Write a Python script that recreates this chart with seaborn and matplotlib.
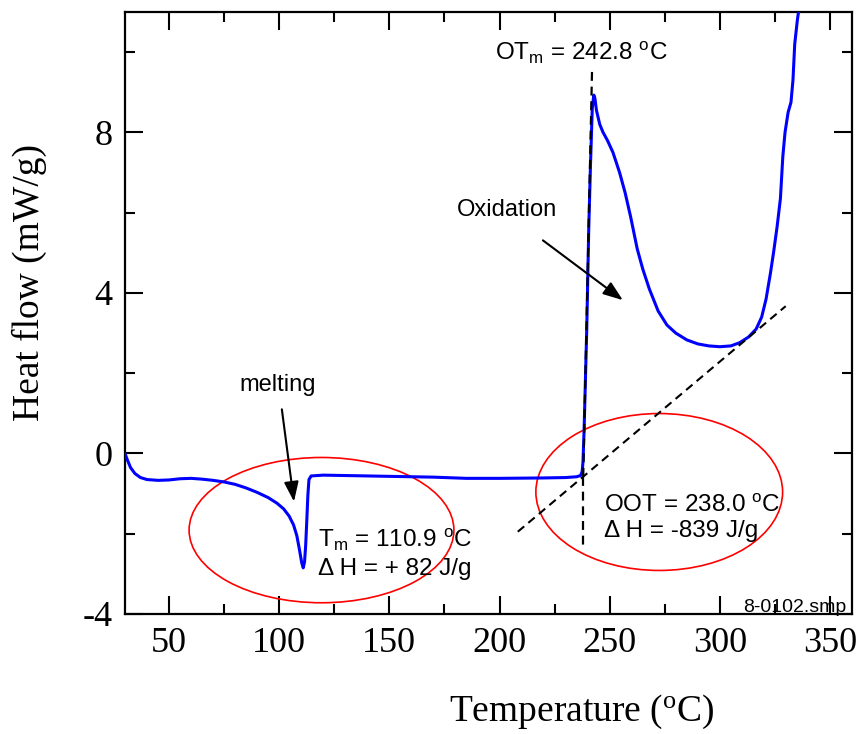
import matplotlib
matplotlib.use("Agg")
import matplotlib.pyplot as plt
from matplotlib.patches import Ellipse
from matplotlib.ticker import MultipleLocator
import numpy as np
import pandas as pd
import seaborn as sns

# DSC heat-flow trace (temperature in degC, heat flow in mW/g)
temperature = [
    30.0, 31.0, 32.5, 34.5, 37.0, 40.0, 45.0, 50.0, 55.0, 60.0, 65.0, 70.0,
    75.0, 80.0, 85.0, 90.0, 95.0, 99.0, 102.0, 104.5, 106.5, 108.0, 109.2,
    110.2, 110.9, 111.5, 112.0, 112.5, 113.0, 113.5, 114.5, 120.0, 130.0,
    150.0, 170.0, 185.0, 200.0, 220.0, 230.0, 235.0, 236.8, 237.5, 237.9,
    238.4, 239.6, 240.5, 241.3, 242.1, 242.8, 243.3, 244.0, 245.5, 247.0,
    249.0, 251.5, 254.5, 257.0, 259.5, 262.5, 265.0, 268.0, 272.0, 276.0,
    280.0, 285.0, 290.0, 295.0, 300.0, 305.0, 309.0, 313.0, 316.5, 319.0,
    321.0, 323.0, 324.5, 326.0, 327.5, 328.6, 329.6, 331.0, 332.3, 333.2,
    334.0, 335.2, 336.5,
]
heat_flow = [
    0.00, -0.15, -0.35, -0.50, -0.60, -0.65, -0.67, -0.66, -0.63, -0.62,
    -0.64, -0.67, -0.71, -0.77, -0.86, -0.97, -1.10, -1.24, -1.38, -1.56,
    -1.78, -2.05, -2.40, -2.72, -2.85, -2.70, -2.30, -1.70, -1.05, -0.65,
    -0.56, -0.54, -0.55, -0.57, -0.59, -0.62, -0.62, -0.61, -0.60, -0.58,
    -0.55, -0.45, -0.20, 0.60, 3.10, 5.60, 7.20, 8.60, 8.93, 8.85, 8.55,
    8.20, 8.00, 7.80, 7.50, 7.00, 6.50, 5.90, 5.10, 4.60, 4.10, 3.55, 3.20,
    3.00, 2.83, 2.73, 2.68, 2.66, 2.68, 2.76, 2.90, 3.10, 3.40, 3.85, 4.50,
    5.05, 5.65, 6.35, 7.40, 8.00, 8.50, 8.75, 9.30, 10.20, 10.80, 11.30,
]

# Onset construction (tangent lines)
oot = 238.0
otm = 242.8
baseline_tangent_x = [208.3, 329.9]
baseline_tangent_y = [-1.95, 3.67]
edge_tangent_x = [oot, 242.0]
edge_tangent_y = [-0.58, 9.55]
drop_x = [oot, oot]
drop_y = [-0.58, -2.40]

# Highlight ellipses: (centre x, centre y, width, height)
melt_ellipse = (119.2, -1.91, 120.2, 3.62)
ox_ellipse = (272.5, -0.96, 112.0, 3.91)

# Arrows: (tail, head)
melt_arrow = ((101.2, 1.10), (106.7, -1.20))
ox_arrow = ((219.7, 5.31), (256.0, 3.82))

x_ticks = [50, 100, 150, 200, 250, 300, 350]
y_ticks = [-4, 0, 4, 8]

sns.set_style("ticks")
plt.rcParams["font.family"] = ["Liberation Serif", "DejaVu Serif"]
plt.rcParams["mathtext.default"] = "regular"
plt.rcParams["axes.unicode_minus"] = False
plt.rcParams["text.color"] = "black"
plt.rcParams["axes.labelcolor"] = "black"
plt.rcParams["xtick.color"] = "black"
plt.rcParams["ytick.color"] = "black"

df = pd.DataFrame({"Temperature": temperature, "HeatFlow": heat_flow})

fig = plt.figure(figsize=(8.61, 7.34), dpi=100)
ax = fig.add_axes([125 / 861, 1 - 614 / 734, 727 / 861, 602 / 734])

sns.lineplot(data=df, x="Temperature", y="HeatFlow", color="#0000ff",
             lw=2.2, ax=ax, zorder=3)

dash = (4, 2.6)
ax.plot(baseline_tangent_x, baseline_tangent_y, color="black", lw=1.5,
        dashes=dash, zorder=4)
ax.plot(edge_tangent_x, edge_tangent_y, color="black", lw=1.6,
        dashes=dash, zorder=4)
ax.plot(drop_x, drop_y, color="black", lw=1.6, dashes=dash, zorder=4)

for cx, cy, w, h in (melt_ellipse, ox_ellipse):
    ax.add_patch(Ellipse((cx, cy), w, h, fill=False, edgecolor="#ff0000",
                         lw=1.2, zorder=2))

arrow_props = dict(arrowstyle="-|>,head_length=0.6,head_width=0.22",
                   color="black", lw=1.5, shrinkA=0, shrinkB=0,
                   mutation_scale=20)
for tail, head in (melt_arrow, ox_arrow):
    ax.annotate("", xy=head, xytext=tail, arrowprops=arrow_props, zorder=5)

sans = ["Liberation Sans", "DejaVu Sans"]
txt = dict(family=sans, color="black", va="baseline")
ax.text(99.4, 1.55, "melting", fontsize=17, ha="center", **txt)
ax.text(203.5, 5.91, "Oxidation", fontsize=17, ha="center", **txt)
ax.text(197.9, 9.80, r"OT$_m$ = %.1f $^o$C" % otm, fontsize=17.5,
        ha="left", **txt)
ax.text(117.6, -2.34, r"T$_m$ = 110.9 $^o$C", fontsize=17.5, ha="left", **txt)
ax.text(117.6, -3.04, "Δ H = + 82 J/g", fontsize=17.5, ha="left", **txt)
ax.text(247.3, -1.45, r"OOT = %.1f $^o$C" % oot, fontsize=17.5,
        ha="left", **txt)
ax.text(247.3, -2.09, "Δ H = -839 J/g", fontsize=17.5, ha="left", **txt)
ax.text(357.6, -3.94, "8-0102.smp", fontsize=14, ha="right", **txt)

ax.set_xlim(30, 360)
ax.set_ylim(-4, 11)
ax.set_xticks(x_ticks)
ax.set_yticks(y_ticks)
ax.xaxis.set_minor_locator(MultipleLocator(25))
ax.yaxis.set_minor_locator(MultipleLocator(2))
ax.tick_params(which="both", direction="in", top=True, right=True,
               width=1.5, colors="black")
ax.tick_params(which="major", length=13, labelsize=26, pad=9)
ax.tick_params(which="minor", length=7)
for s in ax.spines.values():
    s.set_visible(True)
    s.set_linewidth(1.6)
    s.set_color("black")

ax.set_xlabel(r"Temperature ($^o$C)", fontsize=27, color="black")
ax.set_ylabel("Heat flow (mW/g)", fontsize=27, color="black")
ax.xaxis.label.set_va("center")
ax.yaxis.label.set_va("center")
ax.xaxis.set_label_coords(0.629, -0.163)
ax.yaxis.set_label_coords(-0.131, 0.551)

fig.savefig("out.png", dpi=100)
